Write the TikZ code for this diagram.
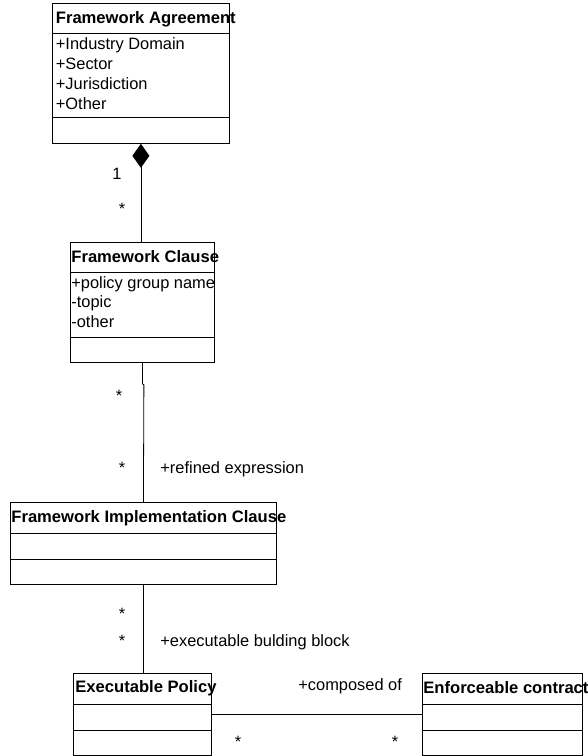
\documentclass[tikz,border=0pt]{standalone}
\usepackage{fontspec}
\setmainfont{Liberation Sans}
\usetikzlibrary{arrows.meta}
\begin{document}
\begin{tikzpicture}[x=1pt, y=-1pt, line width=0.8pt,
    every node/.style={font=\fontsize{16.4}{20}\selectfont, inner sep=0pt},
    classbox/.style={draw, anchor=north west},
    classname/.style={anchor=base west, font=\fontsize{16.6}{20}\selectfont\bfseries},
    attr/.style={anchor=base west},
    mult/.style={anchor=base}]
    \useasboundingbox (0,0) rectangle (588,756);

    \node[classbox, minimum width=177pt, minimum height=139.7pt] (agreement) at (52, 3.3) {};
    \node[classbox, minimum width=144pt, minimum height=120pt] (clause) at (70, 242) {};
    \node[classbox, minimum width=266pt, minimum height=82pt] (fic) at (10, 502) {};
    \node[classbox, minimum width=138pt, minimum height=82pt] (policy) at (73, 673) {};
    \node[classbox, minimum width=160pt, minimum height=82pt] (contract) at (422, 673) {};

    \draw (52, 33) -- (229, 33) (52, 117) -- (229, 117);
    \draw (70, 272) -- (214, 272) (70, 337) -- (214, 337);
    \draw (10, 533) -- (276, 533) (10, 559) -- (276, 559);
    \draw (73, 704) -- (211, 704) (73, 730) -- (211, 730);
    \draw (422, 704) -- (582, 704) (422, 730) -- (582, 730);

    \node[classname] (agreementname) at (55.5, 23) {Framework Agreement};
    \node[attr] (domain) at (55.5, 49) {+Industry Domain};
    \node[attr] (sector) at (55.5, 69) {+Sector};
    \node[attr] (jurisdiction) at (55.5, 89) {+Jurisdiction};
    \node[attr] (other) at (55.5, 109) {+Other};

    \node[classname] (clausename) at (71, 262) {Framework Clause};
    \node[attr] (groupname) at (71, 288) {+policy group name};
    \node[attr] (topic) at (71, 307.5) {-topic};
    \node[attr] (clauseother) at (71, 327) {-other};

    \node[classname] (ficname) at (11, 522) {Framework Implementation Clause};
    \node[classname] (policyname) at (75, 692) {Executable Policy};
    \node[classname] (contractname) at (423, 693) {Enforceable contract};

    \draw[{Diamond[length=24pt, width=17pt]}-] (agreement.south) -- (agreement.south |- clause.north);
    \draw (clause.south) -- ++(0, 21) -- ++(1.5, 1) -- (fic.north) (fic.south) -- (fic.south |- policy.north) (policy.east) -- (contract.west);

    \node[mult] (m1) at (117, 179) {1};
    \node[mult] (m2) at (122, 214) {*};
    \node[mult] (m3) at (119, 401) {*};
    \node[mult] (m4) at (122, 473) {*};
    \node[mult] (m5) at (122, 619) {*};
    \node[mult] (m6) at (122, 646) {*};
    \node[mult] (m7) at (238, 747) {*};
    \node[mult] (m8) at (395, 747) {*};

    \node[attr] (refined) at (160, 473) {+refined expression};
    \node[attr] (building) at (160, 646) {+executable bulding block};
    \node[attr] (composed) at (298, 690) {+composed of};
\end{tikzpicture}
\end{document}
